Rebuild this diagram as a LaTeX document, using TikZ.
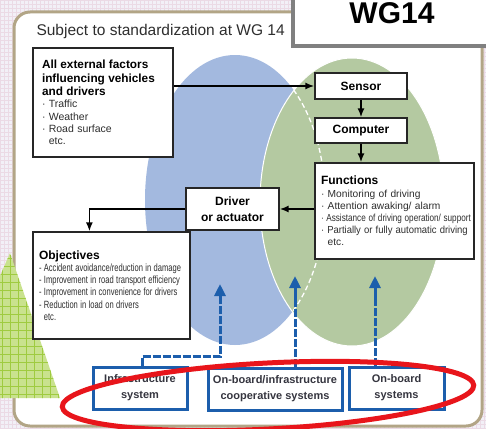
\documentclass[tikz,border=0pt]{standalone}
\usepackage{fontspec}
\setmainfont{Liberation Sans}
\usetikzlibrary{arrows.meta}
\newcommand\nline[1]{\scalebox{0.72}[1]{#1}}
\newcommand\aline[1]{\scalebox{0.8}[1]{#1}}
\newcommand\pline[1]{\scalebox{0.93}[1]{#1}}
\definecolor{bgc}{HTML}{F2F0F7}
\definecolor{bggrid}{HTML}{EBDAE5}
\definecolor{panelc}{HTML}{B2A586}
\definecolor{blueell}{HTML}{A3B9DF}
\definecolor{greenell}{HTML}{B4C9A1}
\definecolor{boxblue}{HTML}{1C5EAC}
\definecolor{redc}{HTML}{E8151B}
\definecolor{tri}{HTML}{C9E28E}
\definecolor{trigrid}{HTML}{9FCB40}
\definecolor{txt}{HTML}{2E2E2E}
\definecolor{btxt}{HTML}{35353F}
\definecolor{wgborder}{HTML}{808080}
\begin{document}
\begin{tikzpicture}[x=1pt,y=-1pt,
  bbox/.style={draw=black!85, line width=1.2pt, fill=white, inner sep=0pt, align=left},
  cbox/.style={draw=black!85, line width=1.2pt, fill=white, inner sep=0pt, align=center,
     font=\fontsize{12}{16}\selectfont\bfseries},
  bluebox/.style={draw=boxblue, line width=3pt, fill=white, inner sep=0pt, align=center,
     font=\fontsize{11}{16}\selectfont\bfseries, text=btxt},
  arr/.style={line width=1.8pt, -{Latex[length=9pt,width=7pt]}},
  barr/.style={line width=3pt, draw=boxblue, -{Triangle[length=12pt,width=11pt]}},
  bdash/.style={line width=3pt, draw=boxblue, dash pattern=on 8pt off 2pt},
]
\useasboundingbox (0,0) rectangle (486,428);
\clip (0,0) rectangle (486,428);
% background
\fill[bgc] (0,0) rectangle (486,428);
\foreach \gx in {0,4,...,484} \draw[bggrid, line width=0.4pt] (\gx,0) -- (\gx,428);
\foreach \gy in {0,4,...,428} \draw[bggrid, line width=0.4pt] (0,\gy) -- (486,\gy);
% panel
\draw[panelc, line width=3pt, fill=white, rounded corners=16pt] (14,12) rectangle (482,426);
% green triangle
\begin{scope}
  \clip (0,276) -- (10,253) -- (60,398) -- (0,398) -- cycle;
  \fill[tri] (0,250) rectangle (62,400);
  \foreach \gx in {2,10,...,66} \draw[trigrid, line width=0.8pt] (\gx,248) -- (\gx,400);
  \foreach \gy in {250,258,...,402} \draw[trigrid, line width=0.8pt] (0,\gy) -- (64,\gy);
\end{scope}
% title
\node[anchor=base west, font=\fontsize{15.5}{18}\selectfont, text=txt] (title) at (33,35)
  {Subject to standardization at WG 14};
% ellipses
\fill[blueell] (235,200) ellipse [x radius=90, y radius=145];
\draw[white, line width=1pt, fill=greenell] (352,202) ellipse [x radius=92, y radius=144];
\begin{scope}
  \clip (352,202) ellipse [x radius=92, y radius=144];
  \draw[white, line width=1.3pt, dash pattern=on 5pt off 3pt] (235,200) ellipse [x radius=90, y radius=145];
\end{scope}
% boxes
\node[bbox, minimum width=140, minimum height=109, text width=122] (ext) at (103,102.5)
  {{\fontsize{11.8}{13.5}\selectfont\bfseries All external factors\\influencing vehicles\\and drivers\par}
   {\fontsize{10.5}{12.3}\selectfont\color{txt}\mbox{· Traffic}\\\mbox{· Weather}\\\mbox{· Road surface}\\\mbox{\phantom{· }etc.}\par}};
\node[cbox, minimum width=92, minimum height=26] (sensor) at (361,86) {Sensor};
\node[cbox, minimum width=92, minimum height=25] (computer) at (361,130.5) {Computer};
\node[bbox, minimum width=159, minimum height=96, text width=147] (func) at (394.5,211)
  {{\fontsize{12}{14}\selectfont\bfseries Functions\par}
   {\fontsize{10.2}{12.2}\selectfont\color{txt}\mbox{· Monitoring of driving}\\\mbox{· Attention awaking/ alarm}\\\aline{· Assistance of driving operation/ support}\\\pline{· Partially or fully automatic driving}\\\mbox{\phantom{· }etc.}\par}};
\node[cbox, minimum width=93, minimum height=42] (driver) at (232.5,209) {Driver\\or actuator};
\node[bbox, minimum width=157, minimum height=107, text width=145] (obj) at (111.5,285.5)
  {{\fontsize{12}{14}\selectfont\bfseries Objectives\par}
   {\fontsize{10.5}{12.3}\selectfont\color{txt}\nline{- Accident avoidance/reduction in damage}\\\nline{- Improvement in road transport efficiency}\\\nline{- Improvement in convenience for drivers}\\\nline{- Reduction in load on drivers}\\\nline{\phantom{- }etc.}\par}};
\node[bluebox, minimum width=94, minimum height=42] (infra) at (140,388) {Infrastructure\\system};
\node[bluebox, minimum width=134, minimum height=42] (coop) at (275,389) {On-board/infrastructure\\cooperative systems};
\node[bluebox, minimum width=95, minimum height=42] (onb) at (396.5,388) {On-board\\systems};
% black connectors
\draw[arr] (ext.east |- sensor.west) -- (sensor.west);
\draw[arr] (sensor.south) -- (computer.north);
\draw[arr] (computer.south) -- (computer.south |- func.north);
\draw[arr] (func.west |- driver.east) -- (driver.east);
\draw[arr] (driver.west) -| ([xshift=57pt]obj.north west);
% blue connectors
\coordinate (im) at (220,300);
\coordinate (it) at (220,284);
\coordinate (cm) at (295,300);
\coordinate (ct) at (295,276);
\coordinate (om) at (375,300);
\coordinate (ot) at (375,276);
\draw[bdash] ([xshift=2pt]infra.north) |- (220,356) -- (im);
\draw[barr] (im) -- (it);
\draw[bdash] (coop.north -| cm) -- (cm);
\draw[barr] (cm) -- (ct);
\draw[bdash] (onb.north -| om) -- (om);
\draw[barr] (om) -- (ot);
% red ellipse
\draw[redc, line width=5pt, rotate around={3:(268,396)}] (268,396) ellipse [x radius=206, y radius=33];
% WG14 box
\node[draw=wgborder, line width=4pt, fill=white, minimum width=198, minimum height=66,
  font=\fontsize{30}{36}\selectfont\bfseries, inner sep=0pt] (wg) at (392,13) {WG14};
\end{tikzpicture}
\end{document}
